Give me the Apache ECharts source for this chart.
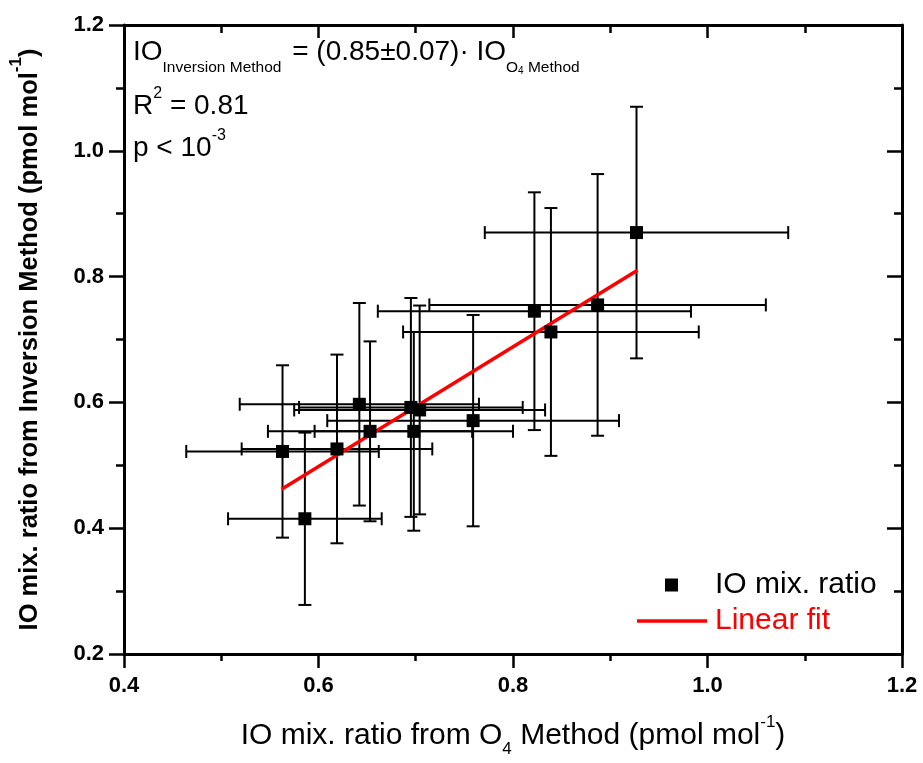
<!DOCTYPE html>
<html>
<head>
<meta charset="utf-8">
<title>IO mix. ratio: Inversion vs O4 Method</title>
<script src="https://cdn.jsdelivr.net/npm/echarts@6/dist/echarts.min.js"></script>
<style>
  html, body { margin: 0; padding: 0; background: #fff; }
  #chart { width: 923px; height: 763px; }
</style>
</head>
<body>
<div id="chart"></div>
<script>
// IO mix. ratio (pmol mol-1)
var o4Method        = [0.563, 0.619, 0.586, 0.642, 0.653, 0.695, 0.704, 0.698, 0.759, 0.822, 0.839, 0.887, 0.927];
var inversionMethod = [0.522, 0.526, 0.415, 0.597, 0.554, 0.592, 0.588, 0.554, 0.571, 0.745, 0.712, 0.755, 0.870];
var o4Err           = [0.099, 0.098, 0.079, 0.123, 0.105, 0.115, 0.129, 0.102, 0.150, 0.161, 0.152, 0.173, 0.156];
var inversionErr    = [0.137, 0.150, 0.137, 0.161, 0.143, 0.174, 0.166, 0.158, 0.168, 0.189, 0.197, 0.208, 0.200];
// linear fit, end points
var fitX = [0.562, 0.928];
var fitY = [0.462, 0.810];

var F = '"Liberation Sans", Arial, sans-serif';

var points = o4Method.map(function (x, i) { return [x, inversionMethod[i]]; });
var errData = o4Method.map(function (x, i) { return [x, inversionMethod[i], o4Err[i], inversionErr[i]]; });
var fitData = fitX.map(function (x, i) { return [x, fitY[i]]; });

// error bars in both directions, with caps
function renderErr(params, api) {
  var x = api.value(0), y = api.value(1), ex = api.value(2), ey = api.value(3);
  var l = api.coord([x - ex, y]), r = api.coord([x + ex, y]);
  var t = api.coord([x, y + ey]), b = api.coord([x, y - ey]);
  var h = 6.5;
  var st = { stroke: '#000', lineWidth: 2 };
  function seg(x1, y1, x2, y2) {
    return { type: 'line', shape: { x1: x1, y1: y1, x2: x2, y2: y2 }, style: st };
  }
  return {
    type: 'group',
    children: [
      seg(l[0], l[1], r[0], r[1]),
      seg(l[0], l[1] - h, l[0], l[1] + h),
      seg(r[0], r[1] - h, r[0], r[1] + h),
      seg(t[0], t[1], b[0], b[1]),
      seg(t[0] - h, t[1], t[0] + h, t[1]),
      seg(b[0] - h, b[1], b[0] + h, b[1])
    ]
  };
}

var tickLabel = {
  fontSize: 22, fontWeight: 'bold', fontFamily: F, color: '#000',
  formatter: function (v) { return v.toFixed(1); }
};
var lineSt = { color: '#000', width: 3 };
var tickSt = { color: '#000', width: 2.5 };

function nameRich(weight) {
  return {
    sub: { fontSize: 17, fontWeight: weight, fontFamily: F, color: '#000', verticalAlign: 'bottom', lineHeight: 44 },
    sup: { fontSize: 17, fontWeight: weight, fontFamily: F, color: '#000', verticalAlign: 'top', lineHeight: 44 }
  };
}

var option = {
  backgroundColor: '#fff',
  animation: false,
  grid: { left: 115, right: 21, top: 25, bottom: 105 },
  xAxis: [{
    type: 'value', min: 0.4, max: 1.2, interval: 0.2, position: 'bottom',
    axisLine: { onZero: false, lineStyle: lineSt },
    axisTick: { length: 14, lineStyle: tickSt },
    minorTick: { show: true, splitNumber: 2, length: 7, lineStyle: tickSt },
    splitLine: { show: false },
    axisLabel: Object.assign({ margin: 21 }, tickLabel),
    name: 'IO mix. ratio from O{sub|4} Method (pmol mol{sup|-1})',
    nameLocation: 'middle', nameGap: 60,
    nameTextStyle: { fontSize: 30, fontFamily: F, color: '#000', lineHeight: 44, rich: nameRich('normal') }
  }, {
    type: 'value', min: 0.4, max: 1.2, interval: 0.2, position: 'top',
    axisLine: { onZero: false, lineStyle: lineSt },
    axisTick: { inside: true, length: 13, lineStyle: tickSt },
    minorTick: { show: true, splitNumber: 2, length: 8, lineStyle: tickSt },
    splitLine: { show: false },
    axisLabel: { show: false }
  }],
  yAxis: [{
    type: 'value', min: 0.2, max: 1.2, interval: 0.2, position: 'left',
    axisLine: { onZero: false, lineStyle: lineSt },
    axisTick: { length: 15, lineStyle: tickSt },
    minorTick: { show: true, splitNumber: 2, length: 8, lineStyle: tickSt },
    splitLine: { show: false },
    axisLabel: Object.assign({ margin: 20 }, tickLabel),
    name: 'IO mix. ratio from Inversion Method (pmol mol{sup|-1})',
    nameLocation: 'middle', nameGap: 72, nameRotate: 90,
    nameTextStyle: { fontSize: 25.5, fontWeight: 'bold', fontFamily: F, color: '#000', lineHeight: 44, rich: nameRich('bold') }
  }, {
    type: 'value', min: 0.2, max: 1.2, interval: 0.2, position: 'right',
    axisLine: { onZero: false, lineStyle: lineSt },
    axisTick: { inside: true, length: 15, lineStyle: tickSt },
    minorTick: { show: true, splitNumber: 2, length: 8, lineStyle: tickSt },
    splitLine: { show: false },
    axisLabel: { show: false }
  }],
  legend: [{
    data: ['IO mix. ratio'],
    left: 665, top: 570, padding: 0, selectedMode: false,
    itemWidth: 13, itemHeight: 13,
    textStyle: { fontSize: 30, fontFamily: F, color: '#000', padding: [0, 0, 0, 32] }
  }, {
    data: [{ name: 'Linear fit', icon: 'rect' }],
    left: 637, top: 606, padding: 0, selectedMode: false,
    itemWidth: 70, itemHeight: 3.5,
    textStyle: { fontSize: 30, fontFamily: F, color: '#ff0000', padding: [0, 0, 0, 3] }
  }],
  graphic: [{
    type: 'text', x: 133, y: 28,
    style: {
      text: 'IO{subA|Inversion Method} = (0.85±0.07)· IO{sub|O}{sub2|4}{sub| Method}',
      fontSize: 28, fontFamily: F, fill: '#000', lineHeight: 48, verticalAlign: 'top',
      rich: {
        subA: { fontSize: 15.5, fontFamily: F, fill: '#000', verticalAlign: 'bottom', lineHeight: 48, padding: [0, 3, 0, 0] },
        sub: { fontSize: 15.5, fontFamily: F, fill: '#000', verticalAlign: 'bottom', lineHeight: 48 },
        sub2: { fontSize: 10, fontFamily: F, fill: '#000', verticalAlign: 'bottom', lineHeight: 48 }
      }
    }
  }, {
    type: 'text', x: 133, y: 86,
    style: {
      text: 'R{sup|2} = 0.81',
      fontSize: 28, fontFamily: F, fill: '#000', lineHeight: 40, verticalAlign: 'top',
      rich: { sup: { fontSize: 16, fontFamily: F, fill: '#000', verticalAlign: 'top', lineHeight: 40 } }
    }
  }, {
    type: 'text', x: 133, y: 128,
    style: {
      text: 'p < 10{sup|-3}',
      fontSize: 28, fontFamily: F, fill: '#000', lineHeight: 40, verticalAlign: 'top',
      rich: { sup: { fontSize: 16, fontFamily: F, fill: '#000', verticalAlign: 'top', lineHeight: 40 } }
    }
  }],
  series: [{
    type: 'custom',
    name: 'errors',
    renderItem: renderErr,
    encode: { x: 0, y: 1 },
    data: errData,
    z: 2
  }, {
    type: 'line',
    name: 'Linear fit',
    data: fitData,
    symbol: 'none',
    lineStyle: { color: '#ff0000', width: 3.5 },
    itemStyle: { color: '#ff0000' },
    z: 3
  }, {
    type: 'scatter',
    name: 'IO mix. ratio',
    data: points,
    symbol: 'rect',
    symbolSize: 13,
    itemStyle: { color: '#000', opacity: 1 },
    z: 4
  }]
};

var myChart = echarts.init(document.getElementById('chart'));
myChart.setOption(option);
</script>
</body>
</html>
